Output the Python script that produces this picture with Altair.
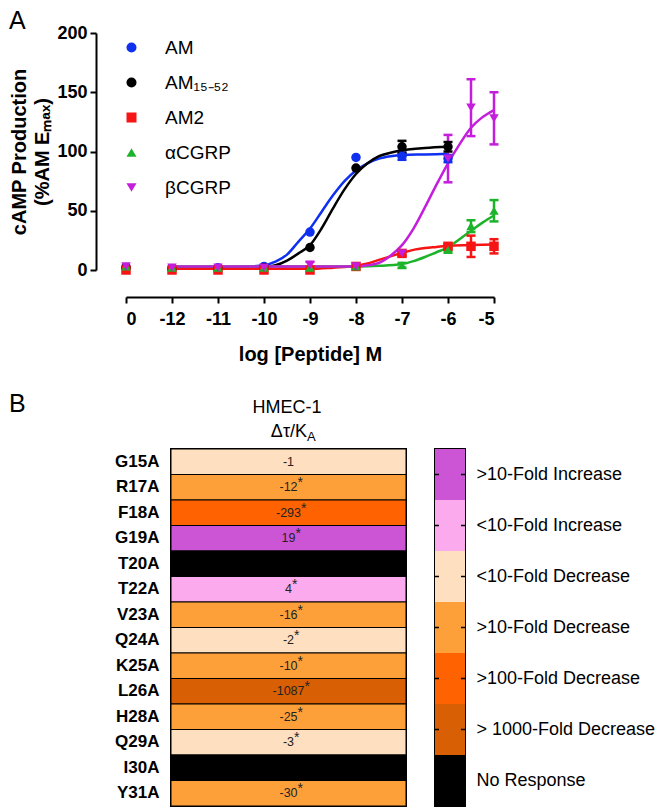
import altair as alt
import pandas as pd

FONT = "Liberation Sans"

# ---------------- Panel A data ----------------
series = ["AM", "AM₁₅₋₅₂", "AM2", "αCGRP", "βCGRP"]
series_colors = ["#1030f0", "#000000", "#f51515", "#1db32b", "#c41edc"]
series_shapes = ["circle", "circle", "square", "triangle-up", "triangle-down"]

# log[peptide] M ; -13 is the basal ("0") position on the axis
x_ticks = [-13, -12, -11, -10, -9, -8, -7, -6, -5]

am_x = [-13, -12, -11, -10, -9, -8, -7, -6]
am_y = [2, 1, 2, 3, 32, 95, 96, 94]
am_e = [0, 0, 0, 0, 0, 0, 3, 3]

am1552_x = [-13, -12, -11, -10, -9, -8, -7, -6]
am1552_y = [2, 1, 1, 2, 19, 86, 104, 104]
am1552_e = [0, 0, 0, 0, 0, 0, 5, 4]

am2_x = [-13, -12, -11, -10, -9, -8, -7, -6, -5.5, -5]
am2_y = [0, 0, 0, 0, 0, 3, 14, 20, 20, 20]
am2_e = [0, 0, 0, 0, 0, 0, 2, 2, 9, 6]

acgrp_x = [-13, -12, -11, -10, -9, -8, -7, -6, -5.5, -5]
acgrp_y = [3, 2, 2, 2, 2, 3, 4, 17, 37, 50]
acgrp_e = [0, 0, 0, 0, 0, 0, 2, 2, 5, 9]

bcgrp_x = [-13, -12, -11, -10, -9, -8, -7, -6, -5.5, -5]
bcgrp_y = [3, 2, 2, 2, 4, 3, 14, 94, 137, 128]
bcgrp_e = [0, 0, 0, 0, 3, 0, 0, 20, 24, 22]

# fitted curves
am_cx = [-12, -11, -10.5, -10, -9.75, -9.5, -9.25, -9, -8.75, -8.5, -8.25, -8, -7.75, -7.5, -7.25, -7, -6.5, -6]
am_cy = [2, 2, 2.5, 4, 7, 13, 24, 35, 49, 63, 75, 84, 90, 94, 96, 97, 97.5, 98]
am1552_cx = [-12, -11, -10.5, -10, -9.75, -9.5, -9.25, -9, -8.75, -8.5, -8.25, -8, -7.75, -7.5, -7.25, -7, -6.5, -6]
am1552_cy = [2, 2, 2, 2.5, 4, 8, 14, 21, 35, 52, 68, 81, 90, 96, 99, 101, 103, 104]
am2_cx = [-12, -11, -10, -9, -8.5, -8, -7.75, -7.5, -7.25, -7, -6.75, -6.5, -6.25, -6, -5.5, -5]
am2_cy = [1, 1, 1, 1, 2, 3.5, 5.5, 8.5, 11.5, 14.5, 17, 18.5, 19.5, 20.5, 21, 21.5]
acgrp_cx = [-12, -11, -10, -9, -8, -7.5, -7, -6.75, -6.5, -6.25, -6, -5.75, -5.5, -5.25, -5]
acgrp_cy = [3, 3, 3, 3, 3, 3.5, 5, 7.5, 11, 15, 19, 26, 33, 40, 46]
bcgrp_cx = [-12, -11, -10, -9, -8, -7.75, -7.5, -7.25, -7, -6.75, -6.5, -6.25, -6, -5.75, -5.5, -5.25, -5]
bcgrp_cy = [3, 3, 3, 3, 3, 4, 6, 12, 21, 35, 53, 72, 90, 106, 120, 129, 135]

# ---------------- Panel B data ----------------
mutants = ["G15A", "R17A", "F18A", "G19A", "T20A", "T22A", "V23A",
           "Q24A", "K25A", "L26A", "H28A", "Q29A", "I30A", "Y31A"]
values = ["-1", "-12", "-293", "19", "", "4", "-16",
          "-2", "-10", "-1087", "-25", "-3", "", "-30"]
signif = [0, 1, 1, 1, 0, 1, 1, 1, 1, 1, 1, 1, 0, 1]
categories = [">10-Fold Increase", "<10-Fold Increase", "<10-Fold Decrease",
              ">10-Fold Decrease", ">100-Fold Decrease", "> 1000-Fold Decrease",
              "No Response"]
cat_colors = ["#cc55d6", "#fbaaee", "#fedfbf", "#fda03a", "#ff6200", "#d95f04", "#000000"]
mutant_cat = [2, 3, 4, 0, 6, 1, 3, 2, 3, 5, 3, 2, 6, 3]

# ---------------- build tables ----------------
pt_rows, err_rows, cap_rows, curve_rows = [], [], [], []
pts_all = [(am_x, am_y, am_e), (am1552_x, am1552_y, am1552_e), (am2_x, am2_y, am2_e),
           (acgrp_x, acgrp_y, acgrp_e), (bcgrp_x, bcgrp_y, bcgrp_e)]
curves_all = [(am_cx, am_cy), (am1552_cx, am1552_cy), (am2_cx, am2_cy),
              (acgrp_cx, acgrp_cy), (bcgrp_cx, bcgrp_cy)]
for s, (xs, ys, es) in zip(series, pts_all):
    for x, y, e in zip(xs, ys, es):
        pt_rows.append({"series": s, "x": x, "y": y})
        if e > 0:
            err_rows.append({"series": s, "x": x, "lo": y - e, "hi": y + e})
            cap_rows.append({"series": s, "x": x, "yc": y - e})
            cap_rows.append({"series": s, "x": x, "yc": y + e})
for s, (cx, cy) in zip(series, curves_all):
    for x, y in zip(cx, cy):
        curve_rows.append({"series": s, "x": x, "y": y})

pt_df = pd.DataFrame(pt_rows)
err_df = pd.DataFrame(err_rows)
cap_df = pd.DataFrame(cap_rows)
curve_df = pd.DataFrame(curve_rows)

heat_df = pd.DataFrame({
    "row": mutants, "val": values, "sig": signif,
    "hex": [cat_colors[i] for i in mutant_cat], "col": "HMEC-1"})
leg_df = pd.DataFrame({"cat": categories, "hex": cat_colors, "col": "k"})
tick_df = pd.DataFrame({"cat": [c for c in categories[:6] for _ in (0, 1)],
                        "tx": [2, 28] * 6})

# ---------------- Panel A chart ----------------
# plot origin is shared with panel B's heat map; the x range starts 45px left of it
xscale = alt.Scale(domain=[-13, -5], range=[-45, 323], nice=False, zero=False)
yscale = alt.Scale(domain=[0, 200], nice=False)
axis_common = dict(domainColor="black", domainWidth=2, tickColor="black", tickWidth=2,
                   tickSize=6, labelColor="black", labelFontSize=18, labelFontWeight="bold",
                   labelFont=FONT, titleFont=FONT, titleColor="black", titleFontSize=20,
                   titleFontWeight="bold", grid=False)
xaxis = alt.Axis(values=x_ticks, labelExpr="datum.value == -13 ? '0' : '' + datum.value",
                 offset=27, title="log [Peptide] M", labelPadding=7, titlePadding=16,
                 titleX=139, **axis_common)
yaxis = alt.Axis(values=[0, 50, 100, 150, 200], offset=75, labelPadding=3,
                 title=["cAMP Production", "(%AM Eₘₐₓ)"], titlePadding=4,
                 titleLineHeight=23, **axis_common)


def xe(f):
    return alt.X(f + ":Q", scale=xscale, axis=xaxis)


def ye(f):
    return alt.Y(f + ":Q", scale=yscale, axis=yaxis)


cscale = alt.Scale(domain=series, range=series_colors)
sscale = alt.Scale(domain=series, range=series_shapes)

leg = alt.Legend(title=None, orient="none", legendX=-49, legendY=5, padding=0,
                 labelFontSize=19, labelFont=FONT, labelColor="black",
                 rowPadding=15, labelOffset=24, symbolSize=100,
                 symbolStrokeWidth=0, symbolOpacity=1)

lines = alt.Chart(curve_df).mark_line(strokeWidth=2.5, interpolate="monotone").encode(
    x=xe("x"), y=ye("y"),
    color=alt.Color("series:N", scale=cscale, legend=leg),
    detail="series:N")
errs = alt.Chart(err_df).mark_rule(strokeWidth=2.5).encode(
    x=xe("x"), y=ye("lo"), y2="hi",
    color=alt.Color("series:N", scale=cscale, legend=None))
caps = alt.Chart(cap_df).mark_tick(orient="horizontal", size=9, thickness=2.5, opacity=1).encode(
    x=xe("x"), y=ye("yc"),
    color=alt.Color("series:N", scale=cscale, legend=None))
pts = alt.Chart(pt_df).mark_point(filled=True, size=90, opacity=1, strokeWidth=0).encode(
    x=xe("x"), y=ye("y"),
    fill=alt.Fill("series:N", scale=cscale, legend=leg),
    shape=alt.Shape("series:N", scale=sscale, legend=leg))
letter_a = alt.Chart(pd.DataFrame({"t": ["A"]})).mark_text(
    fontSize=25, align="left", baseline="alphabetic", font=FONT, color="black").encode(
    x=alt.value(-162), y=alt.value(-4), text="t:N")

top = alt.layer(lines, errs, caps, pts, letter_a).properties(width=323, height=237)

# ---------------- Panel B chart ----------------
band = alt.Scale(paddingInner=0, paddingOuter=0)
ycat = alt.Y("row:N", sort=mutants, scale=band,
             axis=alt.Axis(title=None, labelFontSize=17, labelFontWeight="bold",
                           labelColor="black", labelFont=FONT, ticks=False, domain=False,
                           labelPadding=12))
hb = alt.Chart(heat_df)
rect = hb.mark_rect(stroke="black", strokeWidth=1).encode(
    x=alt.X("col:N", axis=None, scale=band), y=ycat,
    fill=alt.Fill("hex:N", scale=None))
vals = hb.mark_text(fontSize=12.5, color="#222222", font=FONT).encode(
    x=alt.X("col:N", axis=None, scale=band), y=ycat, text="val:N")
star = hb.transform_filter("datum.sig == 1").transform_calculate(
    ax="117.5 + ((length(datum.val) - (indexof(datum.val, '-') == 0 ? 1 : 0)) * 6.95"
       " + (indexof(datum.val, '-') == 0 ? 4.16 : 0)) / 2"
).mark_text(fontSize=14, align="left", dy=-4, color="#222222", font=FONT).encode(
    x=alt.X("ax:Q", scale=alt.Scale(domain=[0, 235], nice=False), axis=None),
    y=ycat, text=alt.value("*"))
one = pd.DataFrame({"t": ["HMEC-1"], "d": ["Δτ/K"], "s": ["A"], "b": ["B"]})
t1 = alt.Chart(one).mark_text(fontSize=18, align="center", baseline="alphabetic",
                              font=FONT, color="black").encode(
    x=alt.value(116), y=alt.value(-36), text="t:N")
t2 = alt.Chart(one).mark_text(fontSize=18, align="right", baseline="alphabetic",
                              font=FONT, color="black").encode(
    x=alt.value(136), y=alt.value(-12), text="d:N")
t3 = alt.Chart(one).mark_text(fontSize=13, align="left", baseline="alphabetic",
                              font=FONT, color="black").encode(
    x=alt.value(136), y=alt.value(-8), text="s:N")
letter_b = alt.Chart(one).mark_text(fontSize=25, align="left", baseline="alphabetic",
                                    font=FONT, color="black").encode(
    x=alt.value(-162), y=alt.value(-37), text="b:N")

heat = alt.layer(rect, vals, star, t1, t2, t3, letter_b).resolve_scale(
    x="independent").properties(
    width=235, height=357, view=alt.ViewBackground(stroke="black", strokeWidth=2))

ycat2 = alt.Y("cat:N", sort=categories, scale=band,
              axis=alt.Axis(orient="right", title=None, labelFontSize=18, labelColor="black",
                            labelFont=FONT, ticks=False, domain=False, labelPadding=11))
barrect = alt.Chart(leg_df).mark_rect().encode(
    x=alt.X("col:N", axis=None, scale=band), y=ycat2,
    fill=alt.Fill("hex:N", scale=None))
barticks = alt.Chart(tick_df).mark_tick(orient="horizontal", size=4, thickness=1.5,
                                        color="black", opacity=1).encode(
    x=alt.X("tx:Q", scale=alt.Scale(domain=[0, 30], nice=False), axis=None), y=ycat2)
bar = alt.layer(barrect, barticks).resolve_scale(x="independent").properties(
    width=30, height=357, view=alt.ViewBackground(stroke="black", strokeWidth=2))

bottom = alt.hconcat(heat, bar, spacing=26)
chart = alt.vconcat(top, bottom, spacing=26).configure(
    font=FONT, padding=0).configure_view(stroke="transparent")

chart.save("out.html", embed_options={"renderer": "svg", "actions": False})
